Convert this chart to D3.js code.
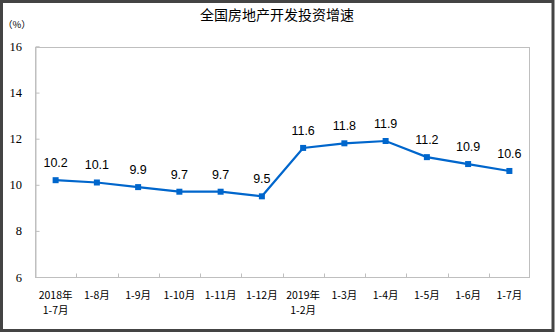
<!DOCTYPE html>
<html>
<head>
<meta charset="utf-8">
<script src="https://cdn.jsdelivr.net/npm/d3@7"></script>
<style>
  html, body { margin: 0; padding: 0; background: #fff; }
  svg { display: block; }
</style>
</head>
<body>
<svg id="chart" width="555" height="333"></svg>
<script>
// Periods (cumulative months) and the growth rate for each
const periods = ["2018年\n1-7月", "1-8月", "1-9月", "1-10月", "1-11月", "1-12月",
                 "2019年\n1-2月", "1-3月", "1-4月", "1-5月", "1-6月", "1-7月"];
const growth = [10.2, 10.1, 9.9, 9.7, 9.7, 9.5, 11.6, 11.8, 11.9, 11.2, 10.9, 10.6];
const yTicks = [6, 8, 10, 12, 14, 16];

const W = 555, H = 333;
const margin = { left: 35, right: 25, top: 46.5, bottom: 56 };
const svg = d3.select("#chart");

// outer dark frame
svg.append("rect")
  .attr("x", 1.5).attr("y", 1.5)
  .attr("width", W - 3.5).attr("height", H - 4)
  .attr("fill", "#fff")
  .attr("stroke", "#444").attr("stroke-width", 3);

const x = d3.scaleBand()
  .domain(periods)
  .range([margin.left, W - margin.right]);
const y = d3.scaleLinear()
  .domain([6, 16])
  .range([H - margin.bottom, margin.top]);

const grey = "#bfbfbf";

// plot frame (top & right edges)
svg.append("rect")
  .attr("x", margin.left + 0.5).attr("y", Math.round(y(16)) + 0.5)
  .attr("width", x.range()[1] - margin.left - 1)
  .attr("height", Math.round(y(6)) - Math.round(y(16)))
  .attr("fill", "none").attr("stroke", grey).attr("stroke-width", 1);

// y axis
const yAxis = svg.append("g")
  .attr("transform", `translate(${margin.left + 0.5},0)`)
  .call(d3.axisRight(y).tickValues(yTicks).tickSize(4).tickFormat(""));
yAxis.selectAll("path, line").attr("stroke", grey);
svg.append("g").selectAll("text")
  .data(yTicks)
  .join("text")
  .attr("x", 22).attr("y", d => y(d) + 4.5)
  .attr("text-anchor", "end")
  .attr("font-family", "'Liberation Serif', 'Times New Roman', serif")
  .attr("font-size", 12.5)
  .attr("fill", "#000")
  .text(d => d);

// x axis with ticks between categories, pointing inward
const xAxisG = svg.append("g")
  .attr("transform", `translate(0,${Math.round(y(6)) + 0.5})`);
xAxisG.append("line")
  .attr("x1", margin.left).attr("x2", x.range()[1])
  .attr("stroke", grey);
xAxisG.selectAll("line.tick")
  .data(periods.slice(1))
  .join("line")
  .attr("class", "tick")
  .attr("x1", d => Math.round(x(d)) + 0.5).attr("x2", d => Math.round(x(d)) + 0.5)
  .attr("y1", 0).attr("y2", -4)
  .attr("stroke", grey);

// category labels
const labelFont = "'Noto Sans CJK SC', 'DejaVu Sans', sans-serif";
svg.append("g").selectAll("text")
  .data(periods)
  .join("text")
  .attr("x", d => x(d) + x.bandwidth() / 2)
  .attr("y", 299)
  .attr("text-anchor", "middle")
  .attr("font-family", labelFont)
  .attr("font-size", 10.5)
  .attr("fill", "#000")
  .each(function (d) {
    const lines = d.split("\n");
    d3.select(this).selectAll("tspan")
      .data(lines)
      .join("tspan")
      .attr("x", x(d) + x.bandwidth() / 2)
      .attr("dy", (l, i) => i === 0 ? 0 : 15)
      .text(l => l);
  });

// series line
const cx = d => x(d) + x.bandwidth() / 2;
const line = d3.line()
  .x((v, i) => cx(periods[i]))
  .y(v => y(v));
const blue = "#0066cc";
svg.append("path")
  .datum(growth)
  .attr("d", line)
  .attr("fill", "none")
  .attr("stroke", blue)
  .attr("stroke-width", 2.2);

// square markers
svg.append("g").selectAll("rect")
  .data(growth)
  .join("rect")
  .attr("x", (v, i) => cx(periods[i]) - 3)
  .attr("y", v => y(v) - 3)
  .attr("width", 6).attr("height", 6)
  .attr("fill", blue);

// value labels
svg.append("g").selectAll("text")
  .data(growth)
  .join("text")
  .attr("x", (v, i) => cx(periods[i]))
  .attr("y", v => y(v) - 13)
  .attr("text-anchor", "middle")
  .attr("font-family", "'Liberation Sans', Arial, sans-serif")
  .attr("font-size", 12.5)
  .attr("fill", "#000")
  .text(v => v.toFixed(1));

// title and unit
svg.append("text")
  .attr("x", 277).attr("y", 20)
  .attr("text-anchor", "middle")
  .attr("font-family", labelFont)
  .attr("font-size", 14)
  .attr("fill", "#000")
  .text("全国房地产开发投资增速");
svg.append("text")
  .attr("x", 3).attr("y", 28)
  .attr("font-family", labelFont)
  .attr("font-size", 9.5)
  .attr("fill", "#000")
  .text("（%）");
</script>
</body>
</html>
